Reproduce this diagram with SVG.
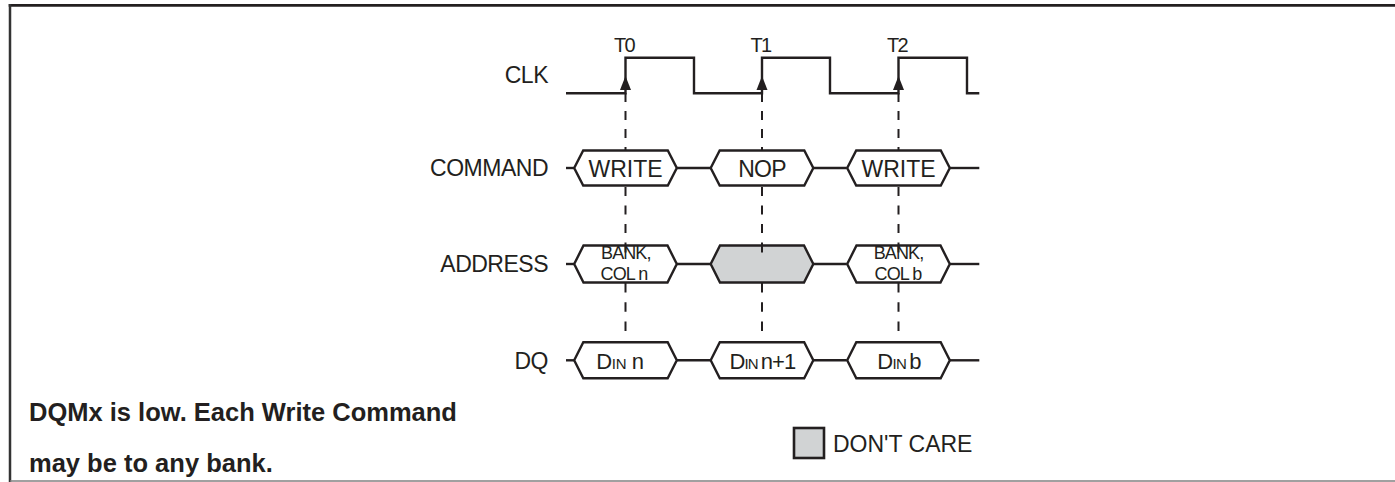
<svg xmlns="http://www.w3.org/2000/svg" width="1395" height="482" viewBox="0 0 1395 482">
<style>
  .t { font-family: "Liberation Sans", Arial, sans-serif; fill: #231f20; }
  .lbl { font-size: 23px; text-anchor: end; letter-spacing: -0.5px; }
  .hx { font-size: 23px; text-anchor: middle; }
  .sm { font-size: 18px; text-anchor: middle; letter-spacing: -0.9px; }
  .tk { font-size: 20px; text-anchor: middle; letter-spacing: -1.6px; }
  .note { font-size: 25.5px; font-weight: bold; }
  .w { fill: #ffffff; stroke: #231f20; stroke-width: 2.4; stroke-linejoin: miter; }
  .g { fill: #d1d3d4; stroke: #231f20; stroke-width: 2.4; stroke-linejoin: miter; }
  .ln { fill: none; stroke: #231f20; stroke-width: 2.4; }
  .d1 { stroke: #231f20; stroke-width: 2; stroke-dasharray: 9 9; }
  .d2 { stroke: #231f20; stroke-width: 2; stroke-dasharray: 9 9.5; }
  .d3 { stroke: #231f20; stroke-width: 2; stroke-dasharray: 9.5 9.8; }
  .dt { stroke: #231f20; stroke-width: 2; }
</style>
<defs>
  <path id="hexC" d="M-51.3,0 L-42.3,-17.5 L42.3,-17.5 L51.3,0 L42.3,17.5 L-42.3,17.5 Z"/>
  <path id="hexA" d="M-51.3,0 L-42,-18.5 L42,-18.5 L51.3,0 L42,18.5 L-42,18.5 Z"/>
  <path id="hexD" d="M-51.3,0 L-42.2,-18 L42.2,-18 L51.3,0 L42.2,18 L-42.2,18 Z"/>
  <path id="arr" d="M0,0 L5.5,14 L-5.5,14 Z" fill="#231f20"/>
</defs>

<g id="frame">
  <line x1="8.7" y1="5.3" x2="1395" y2="5.3" stroke="#231f20" stroke-width="2.7"/>
  <line x1="10" y1="4" x2="10" y2="482" stroke="#333333" stroke-width="2.5"/>
  <line x1="10" y1="481" x2="1395" y2="481" stroke="#808080" stroke-width="1.6"/>
</g>

<g id="labels">
  <text class="t lbl" x="548" y="82.5">CLK</text>
  <text class="t lbl" x="548" y="176">COMMAND</text>
  <text class="t lbl" x="548" y="272">ADDRESS</text>
  <text class="t lbl" x="548" y="368.5">DQ</text>
  <text class="t tk" x="624" y="52">T0</text>
  <text class="t tk" x="760.5" y="52">T1</text>
  <text class="t tk" x="897" y="52">T2</text>
</g>

<g id="connectors">
  <polyline class="ln" points="566,93.3 625.5,93.3 625.5,57.7 694,57.7 694,93.3 762,93.3 762,57.7 830,57.7 830,93.3 898.5,93.3 898.5,57.7 967,57.7 967,93.3 979.3,93.3"/>
  <use href="#arr" x="625.5" y="76"/>
  <use href="#arr" x="762" y="76"/>
  <use href="#arr" x="898.5" y="76"/>
  <line class="ln" x1="566" y1="168" x2="574.3" y2="168"/>
  <line class="ln" x1="676.7" y1="168" x2="710.7" y2="168"/>
  <line class="ln" x1="813.3" y1="168" x2="846.7" y2="168"/>
  <line class="ln" x1="949.3" y1="168" x2="979.3" y2="168"/>
  <line class="ln" x1="566" y1="264" x2="574.3" y2="264"/>
  <line class="ln" x1="676.7" y1="264" x2="710.7" y2="264"/>
  <line class="ln" x1="813.3" y1="264" x2="846.7" y2="264"/>
  <line class="ln" x1="949.3" y1="264" x2="979.3" y2="264"/>
  <line class="ln" x1="566" y1="360.3" x2="574.3" y2="360.3"/>
  <line class="ln" x1="676.7" y1="360.3" x2="710.7" y2="360.3"/>
  <line class="ln" x1="813.3" y1="360.3" x2="846.7" y2="360.3"/>
  <line class="ln" x1="949.3" y1="360.3" x2="979.3" y2="360.3"/>
</g>

<g id="cmd-write-0">
  <use href="#hexC" class="w" x="625.5" y="168"/>
  <text class="t hx" x="625.5" y="177">WRITE</text>
</g>
<g id="cmd-nop">
  <use href="#hexC" class="w" x="762" y="168"/>
  <text class="t hx" x="762" y="177" letter-spacing="-0.8">NOP</text>
</g>
<g id="cmd-write-2">
  <use href="#hexC" class="w" x="898.5" y="168"/>
  <text class="t hx" x="898.5" y="177">WRITE</text>
</g>

<g id="addr-n">
  <use href="#hexA" class="w" x="625.5" y="264"/>
  <text class="t sm" x="625.8" y="259">BANK,</text>
  <text class="t sm" x="624" y="279.5">COL n</text>
</g>
<g id="addr-dontcare">
  <use href="#hexA" class="g" x="762" y="264"/>
</g>
<g id="addr-b">
  <use href="#hexA" class="w" x="898.5" y="264"/>
  <text class="t sm" x="898.5" y="259">BANK,</text>
  <text class="t sm" x="898" y="279.5">COL b</text>
</g>

<g id="dq-n">
  <use href="#hexD" class="w" x="625.5" y="360.3"/>
  <text class="t" x="620" y="368.5" text-anchor="middle" letter-spacing="-0.4"><tspan font-size="22">D</tspan><tspan font-size="15">IN</tspan><tspan font-size="22"> n</tspan></text>
</g>
<g id="dq-n1">
  <use href="#hexD" class="w" x="762" y="360.3"/>
  <text class="t" x="762.5" y="368.5" text-anchor="middle" letter-spacing="-0.9"><tspan font-size="22">D</tspan><tspan font-size="15">IN</tspan><tspan font-size="22" dx="3">n+1</tspan></text>
</g>
<g id="dq-b">
  <use href="#hexD" class="w" x="898.5" y="360.3"/>
  <text class="t" x="899" y="368.5" text-anchor="middle" letter-spacing="-0.6"><tspan font-size="22">D</tspan><tspan font-size="15">IN</tspan><tspan font-size="22" dx="3">b</tspan></text>
</g>

<g id="timing-guides">
  <line class="d1" x1="625.5" y1="93" x2="625.5" y2="150.5"/>
  <line class="d1" x1="762" y1="93" x2="762" y2="150.5"/>
  <line class="d1" x1="898.5" y1="93" x2="898.5" y2="150.5"/>
  <line class="d2" x1="625.5" y1="187" x2="625.5" y2="245.5"/>
  <line class="d2" x1="762" y1="187" x2="762" y2="245.5"/>
  <line class="d2" x1="898.5" y1="187" x2="898.5" y2="245.5"/>
  <line class="dt" x1="625.5" y1="245.5" x2="625.5" y2="252.5"/>
  <line class="dt" x1="762" y1="245.5" x2="762" y2="252.5"/>
  <line class="dt" x1="898.5" y1="245.5" x2="898.5" y2="252.5"/>
  <line class="d3" x1="625.5" y1="283" x2="625.5" y2="342.3"/>
  <line class="d3" x1="762" y1="283" x2="762" y2="342.3"/>
  <line class="d3" x1="898.5" y1="283" x2="898.5" y2="342.3"/>
</g>

<g id="legend">
  <rect x="794" y="428" width="30" height="30" fill="#d1d3d4" stroke="#231f20" stroke-width="2.6"/>
  <text class="t" x="833" y="452" font-size="23">DON'T CARE</text>
</g>

<g id="note">
  <text class="t note" x="29" y="421">DQMx is low. Each Write Command</text>
  <text class="t note" x="29" y="472">may be to any bank.</text>
</g>
</svg>
